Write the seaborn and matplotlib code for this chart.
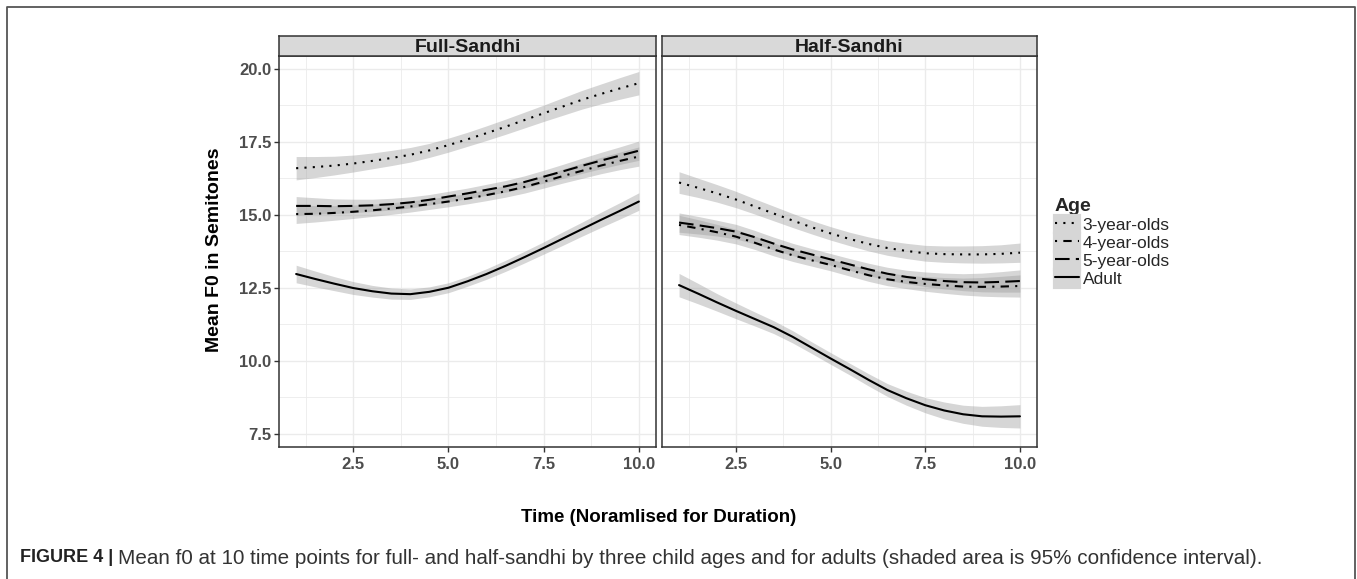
import numpy as np
import pandas as pd
import matplotlib
matplotlib.use("Agg")
import matplotlib.pyplot as plt
from matplotlib.patches import Patch
from matplotlib.lines import Line2D
from matplotlib.legend_handler import HandlerTuple
import seaborn as sns

# ---------------- data ----------------
time = [1.0, 1.5, 2.0, 2.5, 3.0, 3.5, 4.0, 4.5, 5.0, 5.5,
        6.0, 6.5, 7.0, 7.5, 8.0, 8.5, 9.0, 9.5, 10.0]
ages = ["3-year-olds", "4-year-olds", "5-year-olds", "Adult"]
panels = ["Full-Sandhi", "Half-Sandhi"]

full_3yr = [16.59, 16.63, 16.68, 16.75, 16.84, 16.94, 17.05, 17.20, 17.38, 17.58,
            17.79, 18.01, 18.24, 18.47, 18.70, 18.93, 19.13, 19.32, 19.50]
full_4yr = [15.02, 15.03, 15.06, 15.10, 15.15, 15.21, 15.28, 15.36, 15.45, 15.55,
            15.67, 15.80, 15.95, 16.13, 16.32, 16.50, 16.68, 16.84, 16.99]
full_5yr = [15.30, 15.30, 15.29, 15.30, 15.32, 15.36, 15.42, 15.51, 15.62, 15.73,
            15.85, 15.97, 16.12, 16.30, 16.48, 16.67, 16.85, 17.02, 17.19]
full_adult = [12.97, 12.80, 12.64, 12.49, 12.38, 12.30, 12.28, 12.36, 12.50, 12.72,
              12.97, 13.25, 13.55, 13.86, 14.18, 14.50, 14.82, 15.13, 15.45]

half_3yr = [16.10, 15.92, 15.73, 15.52, 15.28, 15.04, 14.80, 14.57, 14.36, 14.17,
            14.00, 13.86, 13.76, 13.68, 13.65, 13.64, 13.64, 13.66, 13.70]
half_4yr = [14.65, 14.53, 14.40, 14.25, 14.04, 13.81, 13.61, 13.44, 13.28, 13.10,
            12.93, 12.79, 12.70, 12.63, 12.58, 12.54, 12.53, 12.54, 12.56]
half_5yr = [14.73, 14.64, 14.54, 14.42, 14.23, 14.01, 13.81, 13.64, 13.47, 13.30,
            13.13, 12.98, 12.87, 12.79, 12.73, 12.69, 12.68, 12.70, 12.73]
half_adult = [12.59, 12.30, 12.00, 11.71, 11.43, 11.15, 10.82, 10.45, 10.08, 9.72,
              9.35, 9.00, 8.72, 8.48, 8.30, 8.17, 8.10, 8.09, 8.10]

# 95% CI half-widths
ci_full_3yr = [0.40, 0.36, 0.32, 0.29, 0.27, 0.26, 0.25, 0.24, 0.24, 0.24,
               0.25, 0.26, 0.27, 0.28, 0.30, 0.32, 0.34, 0.37, 0.40]
ci_full_4yr = [0.32, 0.28, 0.25, 0.23, 0.21, 0.20, 0.19, 0.18, 0.18, 0.18,
               0.19, 0.20, 0.21, 0.22, 0.24, 0.26, 0.28, 0.30, 0.33]
ci_full_5yr = [0.32, 0.28, 0.25, 0.23, 0.21, 0.20, 0.19, 0.18, 0.18, 0.18,
               0.19, 0.20, 0.21, 0.22, 0.24, 0.26, 0.28, 0.30, 0.33]
ci_full_adult = [0.30, 0.27, 0.24, 0.22, 0.20, 0.19, 0.18, 0.17, 0.17, 0.17,
                 0.18, 0.19, 0.20, 0.21, 0.23, 0.24, 0.26, 0.28, 0.30]

ci_half_3yr = [0.37, 0.33, 0.30, 0.28, 0.26, 0.25, 0.24, 0.23, 0.23, 0.23,
               0.24, 0.25, 0.26, 0.27, 0.28, 0.29, 0.30, 0.31, 0.33]
ci_half_4yr = [0.33, 0.30, 0.27, 0.25, 0.23, 0.22, 0.21, 0.20, 0.20, 0.20,
               0.21, 0.22, 0.23, 0.25, 0.27, 0.29, 0.32, 0.35, 0.38]
ci_half_5yr = [0.33, 0.30, 0.27, 0.25, 0.23, 0.22, 0.21, 0.20, 0.20, 0.20,
               0.21, 0.22, 0.23, 0.25, 0.27, 0.29, 0.32, 0.35, 0.38]
ci_half_adult = [0.40, 0.35, 0.30, 0.27, 0.24, 0.22, 0.21, 0.20, 0.20, 0.20,
                 0.21, 0.22, 0.24, 0.26, 0.29, 0.31, 0.34, 0.37, 0.40]

x_ticks = [2.5, 5.0, 7.5, 10.0]
x_tick_labels = ["2.5", "5.0", "7.5", "10.0"]
y_ticks = [7.5, 10.0, 12.5, 15.0, 17.5, 20.0]
y_tick_labels = ["7.5", "10.0", "12.5", "15.0", "17.5", "20.0"]

series = {
    "Full-Sandhi": [full_3yr, full_4yr, full_5yr, full_adult],
    "Half-Sandhi": [half_3yr, half_4yr, half_5yr, half_adult],
}
cis = {
    "Full-Sandhi": [ci_full_3yr, ci_full_4yr, ci_full_5yr, ci_full_adult],
    "Half-Sandhi": [ci_half_3yr, ci_half_4yr, ci_half_5yr, ci_half_adult],
}

rows = []
for p in panels:
    for a, vals, ci in zip(ages, series[p], cis[p]):
        for t, v, c in zip(time, vals, ci):
            rows.append({"Panel": p, "Age": a, "Time": t, "F0": v,
                         "lo": v - c, "hi": v + c})
df = pd.DataFrame(rows)

# ---------------- style ----------------
sns.set_theme(style="white")
FONT = ["Liberation Sans", "DejaVu Sans"]
plt.rcParams["font.family"] = FONT

W, H = 1357, 579
fig = plt.figure(figsize=(W / 100, H / 100), dpi=100)
fig.patch.set_facecolor("white")


def fx(px):
    return px / W


def fy(py):
    return 1 - py / H


dashes = {
    "3-year-olds": (1, 3),
    "4-year-olds": (1, 3, 4, 3),
    "5-year-olds": (7, 3),
    "Adult": "",
}
LW = 1.5
band_color = "#999999"
grey20 = "#333333"
grey30 = "#4d4d4d"

panel_px = {"Full-Sandhi": (279, 656), "Half-Sandhi": (662, 1037)}
top_px, bot_px = 56, 447
strip_top = 36

for p in panels:
    l, r = panel_px[p]
    ax = fig.add_axes([fx(l), fy(bot_px), fx(r) - fx(l), fy(top_px) - fy(bot_px)])
    sub = df[df.Panel == p]
    for a in ages:
        s = sub[sub.Age == a]
        ax.fill_between(s.Time, s.lo, s.hi, color=band_color, alpha=0.4,
                        linewidth=0, zorder=2)
    sns.lineplot(data=sub, x="Time", y="F0", style="Age", style_order=ages,
                 dashes=dashes, color="black", linewidth=LW, ax=ax,
                 legend=False, zorder=3, errorbar=None)
    ax.set_xlim(0.55, 10.45)
    ax.set_ylim(7.05, 20.43)
    ax.set_xticks(x_ticks)
    ax.set_xticklabels(x_tick_labels)
    ax.set_xticks([1.25, 3.75, 6.25, 8.75], minor=True)
    ax.set_yticks(y_ticks)
    if p == "Full-Sandhi":
        ax.set_yticklabels(y_tick_labels)
    else:
        ax.set_yticklabels([])
    ax.set_yticks([8.75, 11.25, 13.75, 16.25, 18.75], minor=True)
    ax.grid(which="major", color="#ebebeb", linewidth=1.0, zorder=0)
    ax.grid(which="minor", color="#ebebeb", linewidth=0.6, zorder=0)
    ax.set_axisbelow(True)
    ax.set_xlabel("")
    ax.set_ylabel("")
    for sp in ax.spines.values():
        sp.set_color(grey20)
        sp.set_linewidth(1.1)
    ax.tick_params(which="major", length=3.5, width=1.0, color=grey20,
                   labelsize=12, labelcolor=grey30, pad=2, left=True, bottom=True)
    ax.tick_params(axis="x", which="major", pad=4)
    ax.tick_params(which="minor", length=0)
    for lab in ax.get_xticklabels() + ax.get_yticklabels():
        lab.set_fontweight("bold")
    if p == "Half-Sandhi":
        ax.tick_params(axis="y", which="major", left=False)

    # facet strip
    sax = fig.add_axes([fx(l), fy(top_px), fx(r) - fx(l), fy(strip_top) - fy(top_px)])
    sax.set_facecolor("#d9d9d9")
    sax.set_xticks([])
    sax.set_yticks([])
    for sp in sax.spines.values():
        sp.set_color(grey20)
        sp.set_linewidth(1.1)
    sax.text(0.5, 0.45, p, ha="center", va="center", fontsize=14,
             fontweight="bold", color="#1a1a1a", transform=sax.transAxes)

# axis titles
fig.text(fx(214), fy(250), "Mean F0 in Semitones", rotation=90, ha="center",
         va="center", fontsize=14, fontweight="bold", color="black")
fig.text(fx(659), fy(518), "Time (Noramlised for Duration)", ha="center",
         va="center", fontsize=13.5, fontweight="bold", color="black")

# legend
handles = []
for a in ages:
    ln = Line2D([0], [0], color="black", linewidth=LW,
                linestyle=(0, dashes[a]) if dashes[a] else "-")
    bg = Patch(facecolor="#d6d6d6", edgecolor="#d6d6d6", linewidth=3)
    handles.append((bg, ln))
leg = fig.legend(handles, ages, title="Age", loc="upper left",
                 bbox_to_anchor=(fx(1055), fy(198)), frameon=False,
                 handler_map={tuple: HandlerTuple(ndivide=1, pad=0)},
                 handlelength=1.4, handleheight=1.05, handletextpad=0.2,
                 labelspacing=0.06, borderpad=0, borderaxespad=0,
                 fontsize=12.5, title_fontsize=14, alignment="left")
leg.get_title().set_fontweight("bold")
leg._legend_box.sep = 1

# outer frame (open at the bottom edge of the image)
frame = Line2D([fx(7), fx(7), fx(1355), fx(1355)],
               [0, fy(7), fy(7), 0], transform=fig.transFigure,
               color="#555555", linewidth=1.3)
fig.add_artist(frame)

# caption
fig.canvas.draw()
renderer = fig.canvas.get_renderer()
t1 = fig.text(fx(20), fy(558), "FIGURE 4 | ", fontsize=13, fontweight="bold",
              color="#222222", va="center", ha="left")
bb = t1.get_window_extent(renderer=renderer)
t2 = fig.text(bb.x1 / W, fy(558),
              "Mean f0 at 10 time points for full- and half-sandhi by three child ages "
              "and for adults (shaded area is 95% confidence interval).",
              fontsize=12, color="#333333", va="center", ha="left")
bb2 = t2.get_window_extent(renderer=renderer)
target = 1268 - bb.x1
t2.set_fontsize(12 * target / bb2.width)

fig.savefig("out.png", dpi=100, facecolor="white")
